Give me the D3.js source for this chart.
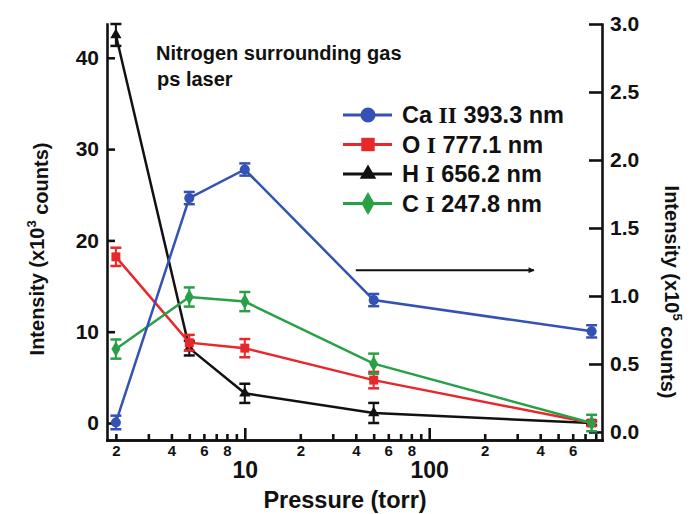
<!DOCTYPE html>
<html>
<head>
<meta charset="utf-8">
<script src="https://cdn.jsdelivr.net/npm/d3@7/dist/d3.min.js"></script>
<style>
  body { margin: 0; background: #fff; }
  text { font-family: "Liberation Sans", Arial, sans-serif; font-weight: bold; fill: #111; }
  .roman { font-family: "Liberation Serif", "Times New Roman", serif; }
</style>
</head>
<body>
<svg id="chart" width="698" height="514"></svg>
<script>
// pressure (torr)
var pressure = [2, 5, 10, 50, 760];

// Ca II 393.3 nm -> right axis (x10^5 counts)
var caII = [0.07, 1.72, 1.93, 0.97, 0.74];
var caIIErr = [0.05, 0.045, 0.045, 0.045, 0.045];
// left axis (x10^3 counts)
var oI = [18.2, 8.8, 8.2, 4.7, 0];
var oIErr = [1.0, 0.85, 1.0, 0.9, 0.3];
var hI = [42.5, 8.2, 3.25, 1.1, 0];
var hIErr = [1.2, 0.8, 1.05, 1.1, 0.2];
var cI = [8.1, 13.8, 13.3, 6.5, 0];
var cIErr = [1.05, 1.05, 1.05, 1.1, 0.9];

var elements = ["Ca", "O", "H", "C"];
var ions = ["II", "I", "I", "I"];
var wavelengths = ["393.3 nm", "777.1 nm", "656.2 nm", "247.8 nm"];

var leftTicks = [0, 10, 20, 30, 40];
var rightTicks = [0, 0.5, 1.0, 1.5, 2.0, 2.5, 3.0];
var majorTicks = [10, 100];
var minorTicks = [2, 3, 4, 5, 6, 7, 8, 9, 20, 30, 40, 50, 60, 70, 80, 90, 200, 300, 400, 500, 600, 700, 800];
var minorLabels = [2, 4, 6, 8, 20, 40, 60, 80, 200, 400, 600];

var svg = d3.select("#chart");

var x = d3.scaleLog().domain([1.79, 865]).range([107, 602]);
var yL = d3.scaleLinear().domain([-1.86, 43.7]).range([440, 24]);
var yR = d3.scaleLinear().domain([-0.059, 3.0]).range([440, 24]);

// order of drawing: black, red, green, blue
var series = [
    {name: 2, values: hI, err: hIErr, color: "#111111", shape: d3.symbolTriangle, size: 55, lsize: 120, y: yL},
    {name: 1, values: oI, err: oIErr, color: "#e8272b", shape: d3.symbolSquare, size: 80, lsize: 180, y: yL},
    {name: 3, values: cI, err: cIErr, color: "#27a046", shape: d3.symbolDiamond, size: 70, lsize: 150, y: yL},
    {name: 0, values: caII, err: caIIErr, color: "#3452b4", shape: d3.symbolCircle, size: 80, lsize: 180, y: yR}
];

//axes
var gx = svg.append("g").attr("transform", "translate(0,440)")
    .call(d3.axisBottom(x).tickValues(minorTicks).tickSize(-6).tickSizeOuter(0).tickPadding(5)
        .tickFormat(function(d) {
            if (minorLabels.indexOf(d) < 0) return "";
            return Math.round(d / Math.pow(10, Math.floor(Math.log10(d) + 1e-9)));
        }));
gx.selectAll("text").style("font-size", "15px");

var gxMajor = svg.append("g").attr("transform", "translate(0,440)")
    .call(d3.axisBottom(x).tickValues(majorTicks).tickSize(-12).tickSizeOuter(0).tickPadding(22)
        .tickFormat(d3.format("d")));
gxMajor.selectAll("text").style("font-size", "23px");

var gl = svg.append("g").attr("transform", "translate(107,0)")
    .call(d3.axisLeft(yL).tickValues(leftTicks).tickSize(-8).tickSizeOuter(0).tickPadding(8));
gl.selectAll("text").style("font-size", "21px");

var gr = svg.append("g").attr("transform", "translate(602,0)")
    .call(d3.axisRight(yR).tickValues(rightTicks).tickSize(-13).tickSizeOuter(0).tickPadding(8)
        .tickFormat(d3.format(".1f")));
gr.selectAll("text").style("font-size", "21px");

svg.selectAll(".domain, .tick line")
    .attr("stroke", "#111")
    .attr("stroke-width", 2.6);
svg.selectAll(".domain").attr("stroke-linecap", "square");
svg.selectAll(".tick text").attr("fill", "#111");

// series
series.forEach(function(s) {
    var pts = pressure.map(function(p, i) {
        return {x: p, y: s.values[i], e: s.err[i]};
    });
    var g = svg.append("g");

    var line = d3.line()
        .x(function(d) { return x(d.x); })
        .y(function(d) { return s.y(d.y); });

    g.append("path")
        .datum(pts)
        .attr("d", line)
        .attr("fill", "none")
        .attr("stroke", s.color)
        .attr("stroke-width", 2.5);

    var eb = g.selectAll(".err").data(pts).enter().append("g");
    eb.append("line")
        .attr("x1", function(d) { return x(d.x); })
        .attr("x2", function(d) { return x(d.x); })
        .attr("y1", function(d) { return s.y(d.y - d.e); })
        .attr("y2", function(d) { return s.y(d.y + d.e); })
        .attr("stroke", s.color).attr("stroke-width", 2);
    [-1, 1].forEach(function(k) {
        eb.append("line")
            .attr("x1", function(d) { return x(d.x) - 5.5; })
            .attr("x2", function(d) { return x(d.x) + 5.5; })
            .attr("y1", function(d) { return s.y(d.y + k * d.e); })
            .attr("y2", function(d) { return s.y(d.y + k * d.e); })
            .attr("stroke", s.color).attr("stroke-width", 2.5);
    });

    g.selectAll(".mk").data(pts).enter().append("path")
        .attr("d", d3.symbol().type(s.shape).size(s.size))
        .attr("transform", function(d) { return "translate(" + x(d.x) + "," + s.y(d.y) + ")"; })
        .attr("fill", s.color);
});

// arrow pointing at right axis
svg.append("defs").append("marker")
    .attr("id", "head")
    .attr("viewBox", "0 0 10 10")
    .attr("refX", 9).attr("refY", 5)
    .attr("markerWidth", 9).attr("markerHeight", 6)
    .attr("markerUnits", "userSpaceOnUse")
    .attr("orient", "auto")
    .append("path").attr("d", "M0,0 L10,5 L0,10 z").attr("fill", "#111");

svg.append("line")
    .attr("x1", x(40)).attr("x2", x(370))
    .attr("y1", yR(1.19)).attr("y2", yR(1.19))
    .attr("stroke", "#111").attr("stroke-width", 2)
    .attr("marker-end", "url(#head)");

// legend
var legend = svg.append("g").attr("transform", "translate(343,115)");
[0, 1, 2, 3].forEach(function(i) {
    var s = series.filter(function(d) { return d.name == i; })[0];
    var row = legend.append("g").attr("transform", "translate(0," + (i * 29.5) + ")");
    row.append("line").attr("x1", 0).attr("x2", 49).attr("y1", 0).attr("y2", 0)
        .attr("stroke", s.color).attr("stroke-width", 3);
    row.append("path")
        .attr("d", d3.symbol().type(s.shape).size(s.lsize))
        .attr("transform", "translate(25,0)")
        .attr("fill", s.color);
    var t = row.append("text").attr("x", 59).attr("y", 0).attr("dy", "0.36em")
        .style("font-size", "23.5px");
    t.append("tspan").text(elements[i] + " ");
    t.append("tspan").attr("class", "roman").text(ions[i]);
    t.append("tspan").text(" " + wavelengths[i]);
});

// title
svg.append("text").attr("x", 156).attr("y", 60).style("font-size", "20px")
    .text("Nitrogen surrounding gas");
svg.append("text").attr("x", 157).attr("y", 86).style("font-size", "20px")
    .text("ps laser");

// axis titles
var lt = svg.append("text")
    .attr("transform", "translate(44,249) rotate(-90)")
    .attr("text-anchor", "middle")
    .style("font-size", "20px");
lt.append("tspan").text("Intensity (x10");
lt.append("tspan").attr("dy", "-0.6em").style("font-size", "13px").text("3");
lt.append("tspan").attr("dy", "0.6em").text(" counts)");

var rt = svg.append("text")
    .attr("transform", "translate(665,292) rotate(90)")
    .attr("text-anchor", "middle")
    .style("font-size", "20px");
rt.append("tspan").text("Intensity (x10");
rt.append("tspan").attr("dy", "-0.6em").style("font-size", "13px").text("5");
rt.append("tspan").attr("dy", "0.6em").text(" counts)");

svg.append("text")
    .attr("x", 345).attr("y", 508)
    .attr("text-anchor", "middle")
    .style("font-size", "23.5px")
    .text("Pressure (torr)");
</script>
</body>
</html>
